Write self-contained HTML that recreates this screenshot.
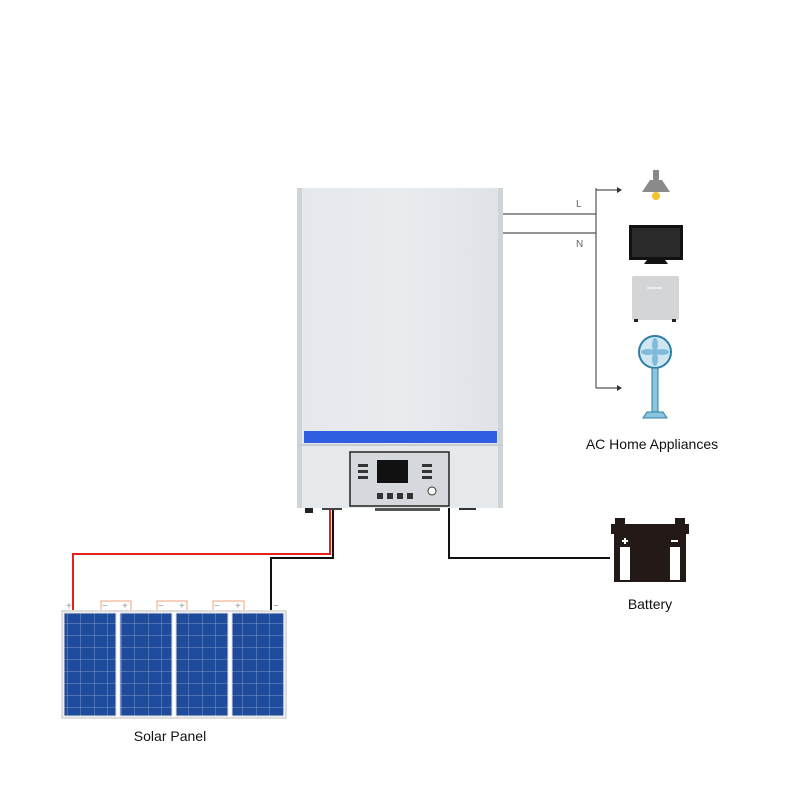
<!DOCTYPE html>
<html><head><style>
body{margin:0;background:#fff;width:800px;height:800px;overflow:hidden;font-family:"Liberation Sans",sans-serif}
</style></head><body>
<svg width="800" height="800" viewBox="0 0 800 800" xmlns="http://www.w3.org/2000/svg">
<defs>
<pattern id="cell" width="13.5" height="12" patternUnits="userSpaceOnUse">
<rect width="13.5" height="12" fill="#1f4b9c"/>
<path d="M13.5 0V12M0 12H13.5" stroke="#7d97cc" stroke-width="1"/>
</pattern>
<linearGradient id="body" x1="0" x2="1"><stop offset="0" stop-color="#e4e8ec"/><stop offset="0.5" stop-color="#e9ecef"/><stop offset="1" stop-color="#dfe3e7"/></linearGradient>
</defs>
<!-- inverter -->
<rect x="297" y="188" width="206" height="258" fill="url(#body)"/>
<rect x="297" y="188" width="5" height="320" fill="#cfd4d9"/>
<rect x="498" y="188" width="5" height="320" fill="#cfd4d9"/>
<rect x="304" y="431" width="193" height="12" fill="#2f5fe0"/>
<rect x="297" y="444" width="206" height="2" fill="#c8cdd2"/>
<rect x="302" y="446" width="196" height="62" fill="#e6e9ec"/>
<rect x="350" y="452" width="99" height="54" fill="#d5d8dc" stroke="#222" stroke-width="1.5"/>
<rect x="377" y="460" width="31" height="23" fill="#111"/>
<g fill="#333"><rect x="358" y="464" width="10" height="3"/><rect x="358" y="470" width="10" height="3"/><rect x="358" y="476" width="10" height="3"/>
<rect x="422" y="464" width="10" height="3"/><rect x="422" y="470" width="10" height="3"/><rect x="422" y="476" width="10" height="3"/>
<rect x="377" y="493" width="6" height="6"/><rect x="387" y="493" width="6" height="6"/><rect x="397" y="493" width="6" height="6"/><rect x="407" y="493" width="6" height="6"/></g>
<circle cx="432" cy="491" r="4" fill="#fff" stroke="#333"/>
<rect x="305" y="508" width="8" height="5" fill="#222"/>
<rect x="322" y="508" width="20" height="2" fill="#444"/>
<rect x="375" y="508" width="65" height="3" fill="#555"/>
<rect x="459" y="508" width="17" height="2" fill="#333"/>
<!-- AC lines -->
<g stroke="#555" stroke-width="1.2" fill="none">
<path d="M503 214H596M503 233H596M596 188V388M596 190H618M596 388H618"/>
</g>
<path d="M617 187l5 3l-5 3z M617 385l5 3l-5 3z" fill="#333"/>
<text x="576" y="207" font-size="10" fill="#666">L</text>
<text x="576" y="247" font-size="10" fill="#666">N</text>
<!-- lamp -->
<rect x="653" y="170" width="6" height="10" fill="#888"/>
<path d="M650 180h12l8 12h-28z" fill="#8a8a8a"/>
<circle cx="656" cy="196" r="4" fill="#f3c22c"/>
<!-- TV -->
<rect x="629" y="225" width="54" height="35" fill="#111"/>
<rect x="632" y="228" width="48" height="29" fill="#2a2a2a"/>
<path d="M647 260h18l3 4h-24z" fill="#111"/>
<!-- fridge -->
<rect x="632" y="276" width="47" height="44" rx="2" fill="#d4d5d6"/>
<rect x="647" y="287" width="15" height="2" fill="#eee"/>
<rect x="634" y="319" width="4" height="3" fill="#222"/><rect x="672" y="319" width="4" height="3" fill="#222"/>
<!-- fan -->
<circle cx="655" cy="352" r="16" fill="#cfe6f2" stroke="#2b7fa4" stroke-width="2"/>
<g fill="#7fbcd9"><ellipse cx="655" cy="345" rx="3" ry="7"/><ellipse cx="655" cy="359" rx="3" ry="7"/><ellipse cx="648" cy="352" rx="7" ry="3"/><ellipse cx="662" cy="352" rx="7" ry="3"/></g>
<rect x="652" y="368" width="6" height="44" fill="#8ec3dc" stroke="#2b7fa4"/>
<path d="M643 418l4-6h16l4 6z" fill="#8ec3dc" stroke="#2b7fa4"/>
<text x="652" y="449" font-size="14" text-anchor="middle" fill="#111">AC Home Appliances</text>
<!-- battery -->
<rect x="615" y="518" width="10" height="8" fill="#231a17"/><rect x="675" y="518" width="10" height="8" fill="#231a17"/>
<rect x="611" y="524" width="78" height="10" fill="#231a17"/>
<rect x="614" y="532" width="72" height="50" fill="#231a17"/>
<rect x="620" y="547" width="10" height="33" fill="#fff"/><rect x="670" y="547" width="10" height="33" fill="#fff"/>
<rect x="622" y="540" width="6" height="2" fill="#fff"/><rect x="624" y="538" width="2" height="6" fill="#fff"/>
<rect x="671" y="540" width="7" height="2" fill="#fff"/>
<text x="650" y="609" font-size="14" text-anchor="middle" fill="#111">Battery</text>
<!-- wires -->
<path d="M449 508V558H610" stroke="#111" stroke-width="2" fill="none"/>
<path d="M330 510V554H73V610" stroke="#e8201c" stroke-width="2" fill="none"/>
<path d="M333 510V558H271V610" stroke="#111" stroke-width="2" fill="none"/>
<!-- panels -->
<g fill="none" stroke="#f0a080" stroke-width="1">
<path d="M101 610V601H131V610M157 610V601H187V610M213 610V601H244V610"/>
</g>
<g font-size="10" fill="#999">
<text x="66" y="609">+</text><text x="102" y="609">−</text><text x="122" y="609">+</text>
<text x="158" y="609">−</text><text x="179" y="609">+</text><text x="214" y="609">−</text><text x="235" y="609">+</text><text x="273" y="609">−</text>
</g>
<rect x="62" y="611" width="224" height="107" fill="#fff" stroke="#bbb"/>
<rect x="64" y="613" width="52" height="103" fill="url(#cell)" stroke="#ddd"/>
<rect x="120" y="613" width="52" height="103" fill="url(#cell)" stroke="#ddd"/>
<rect x="176" y="613" width="52" height="103" fill="url(#cell)" stroke="#ddd"/>
<rect x="232" y="613" width="52" height="103" fill="url(#cell)" stroke="#ddd"/>
<text x="170" y="741" font-size="14" text-anchor="middle" fill="#111">Solar Panel</text>
</svg>
</body></html>
